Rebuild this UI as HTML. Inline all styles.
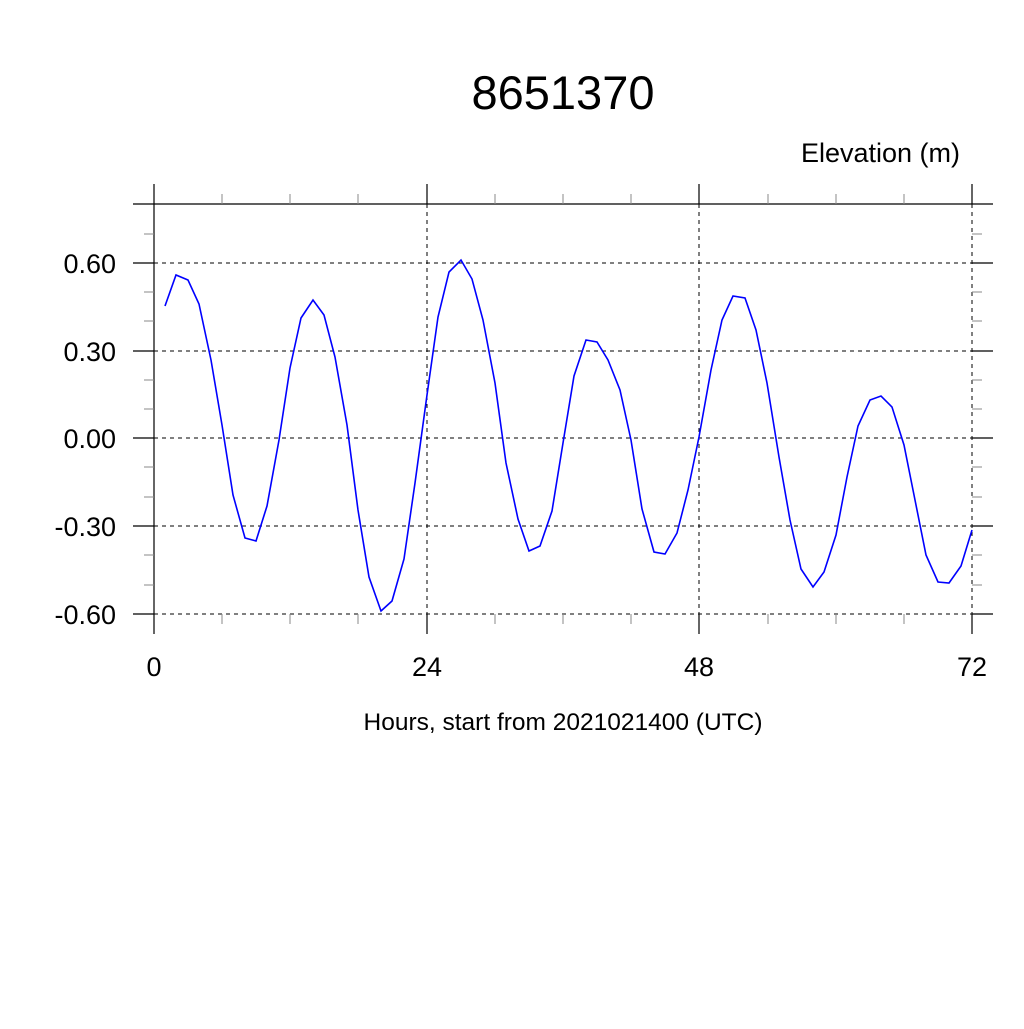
<!DOCTYPE html>
<html><head><meta charset="utf-8"><style>
html,body{margin:0;padding:0;background:#fff;}
svg text{font-family:"Liberation Sans",sans-serif;}
</style></head><body>
<svg width="1024" height="1024" xmlns="http://www.w3.org/2000/svg">
<rect width="1024" height="1024" fill="#fff"/>
<text x="563" y="109" font-size="47" text-anchor="middle">8651370</text>
<text x="960" y="162" font-size="27" text-anchor="end">Elevation (m)</text>
<g stroke="#000" stroke-width="1" stroke-dasharray="4,4">
<line x1="154" y1="263" x2="972" y2="263"/>
<line x1="154" y1="351" x2="972" y2="351"/>
<line x1="154" y1="438" x2="972" y2="438"/>
<line x1="154" y1="526" x2="972" y2="526"/>
<line x1="154" y1="614" x2="972" y2="614"/>
<line x1="427" y1="204" x2="427" y2="614"/>
<line x1="699" y1="204" x2="699" y2="614"/>
<line x1="972" y1="204" x2="972" y2="614"/>
</g>
<g stroke="#000" stroke-width="1.2">
<line x1="154" y1="184" x2="154" y2="634"/>
<line x1="133" y1="204" x2="993" y2="204"/>
<line x1="427" y1="184" x2="427" y2="204"/><line x1="699" y1="184" x2="699" y2="204"/><line x1="972" y1="184" x2="972" y2="204"/>
<line x1="427" y1="614" x2="427" y2="634"/><line x1="699" y1="614" x2="699" y2="634"/><line x1="972" y1="614" x2="972" y2="634"/>
<line x1="133" y1="263" x2="154" y2="263"/><line x1="133" y1="351" x2="154" y2="351"/><line x1="133" y1="438" x2="154" y2="438"/><line x1="133" y1="526" x2="154" y2="526"/><line x1="133" y1="614" x2="154" y2="614"/>
<line x1="972" y1="263" x2="993" y2="263"/><line x1="972" y1="351" x2="993" y2="351"/><line x1="972" y1="438" x2="993" y2="438"/><line x1="972" y1="526" x2="993" y2="526"/><line x1="972" y1="614" x2="993" y2="614"/>
</g>
<g stroke="#888" stroke-width="1">
<path d="M222 194V204M290 194V204M358 194V204M495 194V204M563 194V204M631 194V204M768 194V204M836 194V204M904 194V204
M222 614V624M290 614V624M358 614V624M495 614V624M563 614V624M631 614V624M768 614V624M836 614V624M904 614V624
M144 234H154M144 292H154M144 321H154M144 380H154M144 409H154M144 467H154M144 497H154M144 555H154M144 585H154
M972 234H982M972 292H982M972 321H982M972 380H982M972 409H982M972 467H982M972 497H982M972 555H982M972 585H982"/>
</g>
<g font-size="27" text-anchor="end">
<text x="116" y="273">0.60</text>
<text x="116" y="361">0.30</text>
<text x="116" y="448">0.00</text>
<text x="116" y="536">-0.30</text>
<text x="116" y="624">-0.60</text>
</g>
<g font-size="27" text-anchor="middle">
<text x="154" y="676">0</text><text x="427" y="676">24</text><text x="699" y="676">48</text><text x="972" y="676">72</text>
</g>
<text x="563" y="730" font-size="24.5" text-anchor="middle">Hours, start from 2021021400 (UTC)</text>
<polyline fill="none" stroke="#0000ff" stroke-width="1.6" points="165,306 176,275 188,280 199,304 211,360 222,425 233,495 245,538 256,541 267,506 279,440 290,368 301,318 313,300 324,315 335,357 347,425 358,510 369,577 381,611 392,601 404,559 415,483 427,395 438,317 449,272 461,260 472,279 483,320 495,383 506,463 518,519 529,551 540,546 552,511 563,443 574,376 586,340 597,342 608,360 620,390 631,440 642,509 654,552 665,554 677,533 688,490 699,437 711,370 722,320 733,296 745,298 756,330 767,383 779,457 790,520 801,569 813,587 824,572 836,535 847,477 858,426 870,400 881,396 892,407 904,445 915,500 926,555 938,582 949,583 961,566 972,530"/>
</svg>
</body></html>
